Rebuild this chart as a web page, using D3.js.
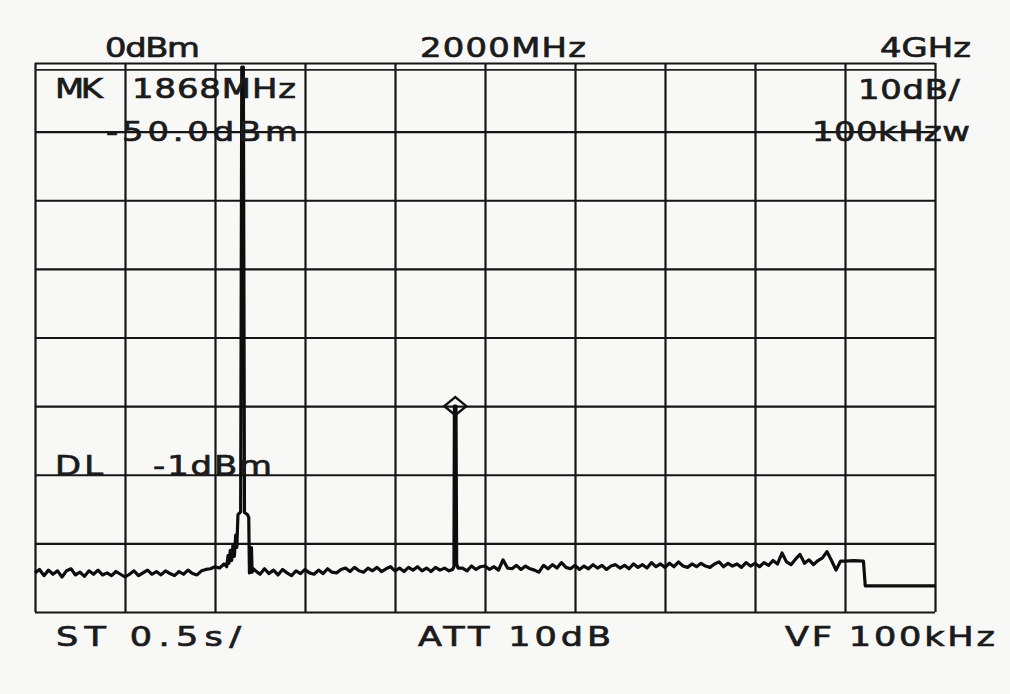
<!DOCTYPE html>
<html>
<head>
<meta charset="utf-8">
<script src="https://cdn.jsdelivr.net/npm/d3@7"></script>
<style>
  body { margin: 0; background: #f8f8f7; }
  svg text { font-family: "DejaVu Sans", sans-serif; fill: #1b1b1b; stroke: #1b1b1b; stroke-width: 0.7; }
</style>
</head>
<body>
<div id="chart"></div>
<script>
var svgWidth = 1010;
var svgHeight = 694;

// sweep settings
var startMHz = 0;
var stopMHz = 4000;
var refLevel = 0;        // dBm, top of screen
var bottomLevel = -80;   // 10 dB/div, 8 divisions
var displayLine = -1;    // DL -1dBm

var freqTicks = d3.range(0, 4001, 400);
var levelTicks = d3.range(-80, 1, 10);

// noise floor, one value every 20 MHz from 0 MHz
var noiseStep = 20;
var noiseLevels = [
  -74.3, -73.8, -74.7, -73.9, -74.5, -74.0, -74.9, -74.0, -73.7, -74.6,
  -74.2, -74.8, -74.0, -74.5, -73.9, -74.6, -74.3, -74.7, -74.1, -74.5,
  -74.9, -74.5, -74.0, -74.7, -74.3, -73.9, -74.5, -74.1, -74.6, -74.0,
  -74.4, -74.7, -74.1, -74.5, -73.9, -74.4, -74.6, -74.0, -73.8, -73.7,
  -73.4, -73.6, -73.0, -73.4, -73.4, -73.4, -73.4, -73.4, -73.4, -74.0,
  -74.5, -73.7, -74.4, -73.9, -74.6, -73.8, -74.3, -74.7, -74.0, -74.4,
  -73.8, -74.3, -74.5, -73.9, -74.4, -73.7, -74.2, -74.3, -73.8, -73.6,
  -74.1, -73.5, -74.0, -74.2, -73.6, -74.0, -73.5, -74.1, -73.7, -73.4,
  -74.0, -73.6, -74.1, -73.5, -73.9, -73.4, -74.0, -73.6, -74.1, -73.5,
  -73.9, -73.6, -74.0, -73.6, -73.6, -73.6, -74.0, -73.3, -73.8, -73.4,
  -73.3, -73.8, -73.4, -73.9, -72.4, -73.6, -73.7, -73.2, -73.8, -73.3,
  -73.7, -73.9, -74.2, -73.2, -73.7, -73.1, -73.6, -72.8, -73.5, -73.7,
  -73.2, -73.8, -73.3, -73.7, -73.1, -73.6, -73.2, -73.8, -73.3, -73.1,
  -73.6, -73.2, -73.7, -73.0, -73.5, -73.1, -73.6, -72.8, -73.4, -73.0,
  -73.5, -72.9, -73.4, -72.7, -73.3, -73.5, -73.0, -73.4, -72.9, -73.3,
  -73.5, -73.0, -72.7, -73.4, -72.9, -73.3, -73.0, -73.5, -72.8, -73.3,
  -72.9, -73.4, -72.8, -73.2, -72.5, -73.0, -71.4, -72.7, -73.1, -72.3,
  -71.6, -72.9, -72.4, -73.1, -72.5, -72.1, -71.2, -72.5, -73.9, -72.6
];

// carrier around 924 MHz (goes up to the reference line)
var carrierWindow = [850, 970];
var carrierFreqs  = [852, 858, 862, 868, 874, 880, 886, 892, 897, 902, 914, 919, 926, 931, 944, 950, 953, 958, 962, 965, 970];
var carrierLevels = [-73.4, -71.8, -72.9, -71.0, -72.5, -70.2, -71.9, -68.8, -70.6, -65.8, -65.4, -0.6, -0.6, -65.5, -65.8, -66.2, -74.3, -73.8, -70.6, -74.2, -73.7];

// marked signal at 1868 MHz, -50.0 dBm
var markerFreq = 1868;
var markerLevel = -50.0;
var markerWindow = [1850, 1885];
var markerFreqs  = [1856, 1862, 1864, 1871, 1874, 1880];
var markerLevels = [-73.8, -73.4, -50.0, -50.0, -73.0, -73.6];

// end of sweep: plateau then drop
var tailWindow = [3590, 4000];
var tailFreqs  = [3600, 3640, 3682, 3690, 4000];
var tailLevels = [-72.6, -72.5, -72.6, -76.2, -76.2];

var topLabels = ["0dBm", "2000MHz", "4GHz"];
var bottomLabels = ["ST 0.5s/", "ATT 10dB", "VF 100kHz"];

// build the trace
function inWindow(f, w) { return f >= w[0] && f <= w[1]; }
var trace = [];
noiseLevels.forEach(function(v, i) {
  var f = startMHz + i * noiseStep;
  if (!inWindow(f, carrierWindow) && !inWindow(f, markerWindow) && !inWindow(f, tailWindow)) {
    trace.push({ f: f, v: v });
  }
});
carrierFreqs.forEach(function(f, i) { trace.push({ f: f, v: carrierLevels[i] }); });
markerFreqs.forEach(function(f, i) { trace.push({ f: f, v: markerLevels[i] }); });
tailFreqs.forEach(function(f, i) { trace.push({ f: f, v: tailLevels[i] }); });
trace.sort(function(a, b) { return a.f - b.f; });

var svg = d3.select("#chart")
  .append("svg")
  .attr("width", svgWidth)
  .attr("height", svgHeight);

var plotLeft = 35, plotRight = 935, plotTop = 63, plotBottom = 612;

var xScale = d3.scaleLinear()
  .domain([startMHz, stopMHz])
  .range([plotLeft, plotRight]);

var yScale = d3.scaleLinear()
  .domain([bottomLevel, refLevel])
  .range([plotBottom, plotTop]);

// grid via axes with full-length ticks
var xGrid = d3.axisBottom(xScale)
  .tickValues(freqTicks)
  .tickSize(-(plotBottom - plotTop))
  .tickFormat("");
var yGrid = d3.axisLeft(yScale)
  .tickValues(levelTicks)
  .tickSize(-(plotRight - plotLeft))
  .tickFormat("");

svg.append("g")
  .attr("transform", `translate(0, ${plotBottom})`)
  .call(xGrid)
  .call(g => g.select(".domain").remove())
  .selectAll("line")
  .attr("stroke", "#161616")
  .attr("stroke-width", 2.2);

svg.append("g")
  .attr("transform", `translate(${plotLeft}, 0)`)
  .call(yGrid)
  .call(g => g.select(".domain").remove())
  .selectAll("line")
  .attr("stroke", "#161616")
  .attr("stroke-width", 2.2);

// display line
svg.append("line")
  .attr("x1", xScale(startMHz))
  .attr("x2", xScale(stopMHz))
  .attr("y1", yScale(displayLine))
  .attr("y2", yScale(displayLine))
  .attr("stroke", "#222")
  .attr("stroke-width", 1.8);

// trace
var line = d3.line()
  .x(d => xScale(d.f))
  .y(d => yScale(d.v));

svg.append("path")
  .datum(trace)
  .attr("d", line)
  .attr("fill", "none")
  .attr("stroke", "#0d0d0d")
  .attr("stroke-width", 3.2)
  .attr("stroke-linejoin", "round");

// marker diamond
var mx = xScale(markerFreq), my = yScale(markerLevel);
svg.append("path")
  .attr("d", `M${mx - 11},${my} L${mx},${my - 9} L${mx + 11},${my} L${mx},${my + 9} Z`)
  .attr("fill", "none")
  .attr("stroke", "#111")
  .attr("stroke-width", 2.4);

// screen annotations (plotter font is wide, so stretch horizontally)
var stretch = 1.3;
function label(txt, x, y, len, size) {
  svg.append("text")
    .attr("transform", `translate(${x}, ${y}) scale(${stretch}, 1)`)
    .attr("font-size", size || 26)
    .attr("textLength", len / stretch)
    .attr("lengthAdjust", "spacing")
    .text(txt);
}

label(topLabels[0], 105, 57, 95);
label(topLabels[1], 420, 57, 166);
label(topLabels[2], 880, 57, 91);

label("MK", 55, 98, 48);
label(markerFreq + "MHz", 132, 98, 164);
label(markerLevel.toFixed(1) + "dBm", 106, 141, 192);

label("10dB/", 858, 99, 102);
label("100kHzw", 812, 141, 158);

label("DL", 55, 475, 48);
label(displayLine + "dBm", 153, 475, 119);

label(bottomLabels[0], 56, 646, 185, 27);
label(bottomLabels[1], 418, 646, 193, 27);
label(bottomLabels[2], 785, 646, 210, 27);
</script>
</body>
</html>
